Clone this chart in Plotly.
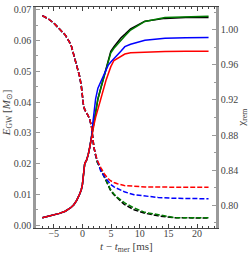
import plotly.graph_objects as go

# ---- data ----
# shared pre-merger portion (all four runs coincide)
t_pre = [-7, -6, -5, -4, -3, -2, -1.5, -1, -0.5, -0.2, 0, 0.2, 0.4, 0.7, 1.0, 1.3, 1.6]
E_pre = [0.0024, 0.0028, 0.0033, 0.0038, 0.0045, 0.0057, 0.0066, 0.0080, 0.0100, 0.0115,
         0.0132, 0.0180, 0.0200, 0.0210, 0.0228, 0.0255, 0.0290]
chi_pre = [1.016, 1.0125, 1.0075, 1.001, 0.994, 0.983, 0.972, 0.961, 0.947, 0.936,
           0.924, 0.913, 0.909, 0.906, 0.902, 0.897, 0.889]

# post-merger gravitational-wave energy (solid)
t_post_E = [1.8, 2.0, 2.3, 2.7, 3.2, 4.1, 4.5, 4.95, 5.5, 6.7, 7.4, 8.4, 10.9, 14.4, 18, 22]
E_black = [0.031, 0.034, 0.037, 0.041, 0.0445, 0.0505, 0.054, 0.0565, 0.0580, 0.0608, 0.0620,
           0.0638, 0.0663, 0.0672, 0.0675, 0.0675]
E_green = [0.031, 0.034, 0.037, 0.041, 0.0445, 0.0505, 0.0538, 0.0560, 0.0575, 0.0602, 0.0615,
           0.0634, 0.0662, 0.0675, 0.0678, 0.0679]
E_blue = [0.033, 0.037, 0.041, 0.0445, 0.0465, 0.0505, 0.0520, 0.0530, 0.0540, 0.0565, 0.0580,
          0.0588, 0.0601, 0.0607, 0.0609, 0.0610]
E_red = [0.031, 0.0325, 0.035, 0.038, 0.041, 0.047, 0.0495, 0.0515, 0.0535, 0.0550, 0.0556,
         0.0560, 0.0562, 0.0564, 0.0565, 0.0565]

# post-merger remnant spin (dashed)
t_post_chi = [1.75, 2.0, 2.3, 2.6, 3.2, 3.8, 4.4, 4.9, 5.5, 6.1, 7.3, 9.0, 10.9, 13.2, 16.1, 22]
chi_black = [0.880, 0.866, 0.857, 0.849, 0.841, 0.832, 0.823, 0.817, 0.812, 0.808, 0.801, 0.795,
             0.791, 0.788, 0.786, 0.7855]
chi_green = [0.880, 0.866, 0.857, 0.849, 0.841, 0.833, 0.824, 0.818, 0.813, 0.809, 0.803, 0.797,
             0.792, 0.789, 0.786, 0.7858]
chi_blue = [0.880, 0.866, 0.857, 0.850, 0.839, 0.833, 0.828, 0.824, 0.821, 0.819, 0.8155, 0.812,
            0.8105, 0.809, 0.808, 0.8075]
chi_red = [0.880, 0.866, 0.858, 0.851, 0.843, 0.836, 0.831, 0.828, 0.826, 0.8245, 0.8225, 0.8215,
           0.821, 0.8208, 0.8206, 0.8205]

runs = [("black", E_black, chi_black), ("green", E_green, chi_green),
        ("blue", E_blue, chi_blue), ("red", E_red, chi_red)]
colors = {"black": "#000000", "green": "#007a00", "blue": "#0000ff", "red": "#ff0000"}

fig = go.Figure()
for name, E_post, chi_post in runs:
    fig.add_trace(go.Scatter(x=t_pre + t_post_E, y=E_pre + E_post, mode="lines",
                             line=dict(color=colors[name], width=1.5), yaxis="y",
                             showlegend=False, hoverinfo="skip"))
for name, E_post, chi_post in runs:
    fig.add_trace(go.Scatter(x=t_pre + t_post_chi, y=chi_pre + chi_post, mode="lines",
                             line=dict(color=colors[name], width=1.5, dash="5px,2px"),
                             yaxis="y2", showlegend=False, hoverinfo="skip"))

font_family = "Liberation Serif"
axis_gray = "#9a9a9a"
tick_font = dict(family=font_family, size=10, color="#444")
title_font = dict(family=font_family, size=11, color="#444")
fig.update_layout(
    width=249, height=254,
    margin=dict(l=35.5, r=33, t=4, b=26),
    paper_bgcolor="white", plot_bgcolor="white",
    font=dict(family=font_family, size=10, color="#444"),
    xaxis=dict(range=[-8.1, 23.3], tickmode="linear", tick0=0, dtick=5,
               ticks="inside", ticklen=4, tickcolor="#444", tickwidth=1, tickfont=tick_font,
               ticklabelstandoff=-4,
               minor=dict(dtick=1, ticks="inside", ticklen=2, tickcolor="#444"),
               showline=True, linecolor="#444", linewidth=1, mirror="ticks",
               showgrid=False, zeroline=False),
    yaxis=dict(range=[-0.00096, 0.0709], tickmode="linear", tick0=0, dtick=0.01,
               tickformat=".2f", ticks="inside", ticklen=4, tickcolor=axis_gray,
               tickfont=tick_font,
               minor=dict(dtick=0.005, ticks="inside", ticklen=2, tickcolor=axis_gray),
               showline=True, linecolor=axis_gray, linewidth=2.5,
               showgrid=False, zeroline=False),
    yaxis2=dict(range=[0.7742, 1.0258], overlaying="y", side="right",
                tickmode="linear", tick0=0.80, dtick=0.04, tickformat=".2f",
                ticks="inside", ticklen=4, tickcolor=axis_gray, tickfont=tick_font,
                minor=dict(dtick=0.02, ticks="inside", ticklen=2, tickcolor=axis_gray),
                showline=True, linecolor=axis_gray, linewidth=2.5,
                showgrid=False, zeroline=False),
    annotations=[
        dict(text="<i>t</i> − <i>t</i><sub>mer</sub> [ms]", xref="paper", yref="paper",
             x=0.5, y=-0.086, xanchor="center", yanchor="middle", showarrow=False,
             font=title_font),
        dict(text="<i>E</i><sub>GW</sub> [<i>M</i><sub>⊙</sub>]", xref="paper", yref="paper",
             x=-0.16, y=0.52, xanchor="center", yanchor="middle", textangle=-90,
             showarrow=False, font=title_font),
        dict(text="χ<sub>rem</sub>", xref="paper", yref="paper",
             x=1.14, y=0.5, xanchor="center", yanchor="middle", textangle=-90,
             showarrow=False, font=title_font),
    ],
)

fig.write_html("out.html", config={"displayModeBar": False},
               post_script="document.body.style.margin='0';")
